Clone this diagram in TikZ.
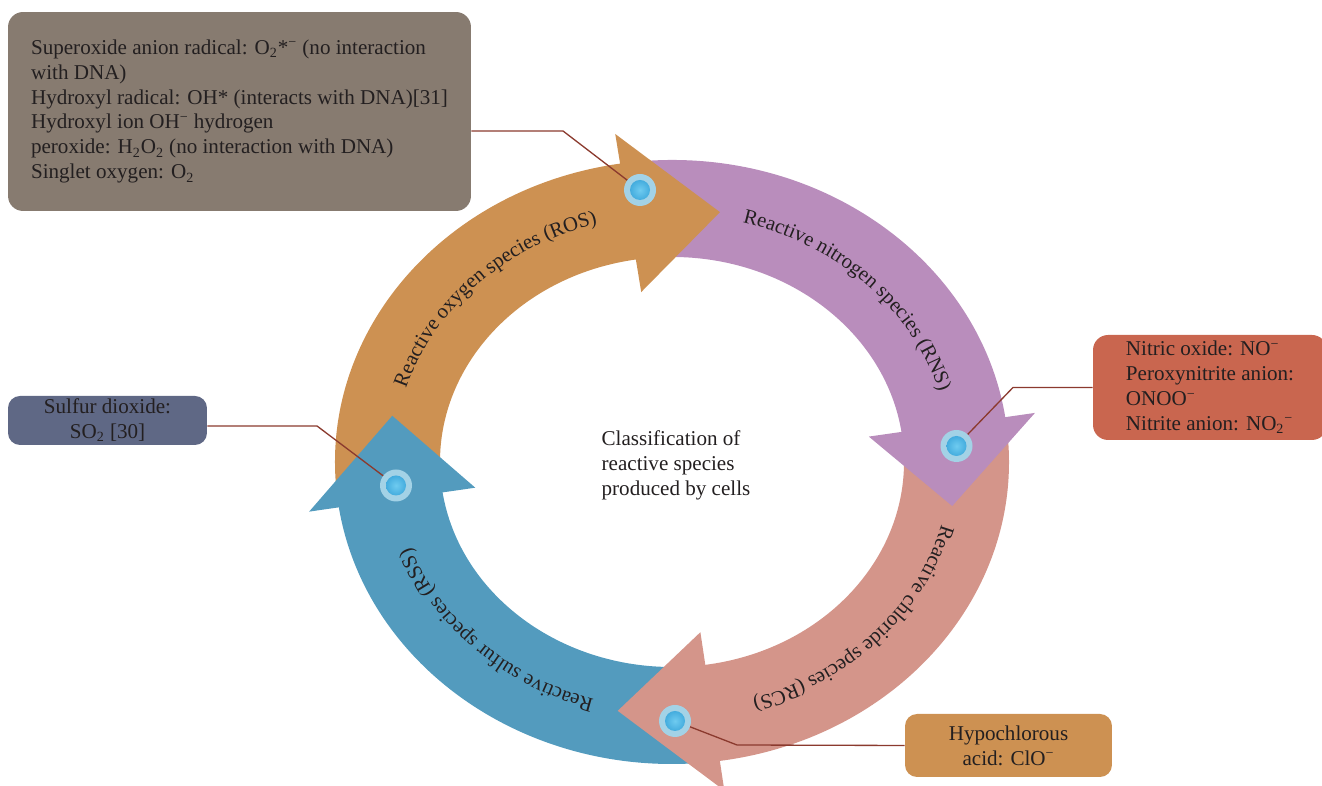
\documentclass[tikz,border=0pt]{standalone}
\usepackage{fontspec}
\setmainfont{Liberation Serif}
\usetikzlibrary{decorations.text}

\definecolor{rosorange}{HTML}{CD9152}
\definecolor{rnspurple}{HTML}{B98DBC}
\definecolor{rcspink}{HTML}{D4958A}
\definecolor{rssblue}{HTML}{539BBE}
\definecolor{boxgray}{HTML}{877B70}
\definecolor{boxred}{HTML}{C9664F}
\definecolor{boxslate}{HTML}{5F6885}
\definecolor{linkred}{HTML}{8B3A2E}
\definecolor{inktext}{HTML}{231F20}
\definecolor{ringblue}{HTML}{A3D2E6}
\definecolor{dotlight}{HTML}{6FCBF0}
\definecolor{dotdark}{HTML}{2A9AD3}

\newcommand{\ringfont}{\fontsize{11.8}{14.2}\selectfont}
\newcommand{\boxfont}{\fontsize{12}{14.2}\selectfont}

\begin{document}
\begin{tikzpicture}[x=0.02cm,y=0.02cm,
    infobox/.style={rounded corners=0.3cm, text=inktext, font=\boxfont, inner sep=0pt},
    dot/.style={circle, minimum size=0.64cm, inner sep=0pt, fill=ringblue,
      path picture={\shade[inner color=dotlight, outer color=dotdark] (path picture bounding box.center) circle (0.2cm);}},
    link/.style={linkred, line width=0.75pt}]
    \useasboundingbox (0,0) rectangle (1322,786);
    \clip (0,0) rectangle (1322,786);

    \begin{scope}[shift={(672,324)}]
      % bands
      \fill[rosorange] (185:337 and 302) arc[start angle=185, end angle=98.4, x radius=337, y radius=302]
        -- (98.4:232 and 205) arc[start angle=98.4, end angle=185, x radius=232, y radius=205] -- cycle;
      \fill[rnspurple] (95:337 and 302) arc[start angle=95, end angle=8, x radius=337, y radius=302]
        -- (8:232 and 205) arc[start angle=8, end angle=95, x radius=232, y radius=205] -- cycle;
      \fill[rcspink] (4.5:337 and 302) arc[start angle=4.5, end angle=-82.3, x radius=337, y radius=302]
        -- (-82.3:232 and 205) arc[start angle=-82.3, end angle=4.5, x radius=232, y radius=205] -- cycle;
      \fill[rssblue] (274:337 and 302) arc[start angle=274, end angle=188.1, x radius=337, y radius=302]
        -- (188.1:232 and 205) arc[start angle=188.1, end angle=274, x radius=232, y radius=205] -- cycle;
      % heads
      \fill[rosorange] (98.9:367 and 332) -- (80.3:284.5 and 253.5) -- (98.9:199 and 172) -- cycle;
      \fill[rnspurple] (8.5:367 and 332) -- (-10:284.5 and 253.5) -- (8.5:199 and 172) -- cycle;
      \fill[rcspink] (-81.8:367 and 332) -- (-101:284.5 and 253.5) -- (-81.8:199 and 172) -- cycle;
      \fill[rssblue] (188.6:367 and 332) -- (169.5:284.5 and 253.5) -- (188.6:199 and 172) -- cycle;
      % curved labels
      \path[decorate, decoration={text along path, text align=center, text color=inktext,
        text={|\ringfont|Reactive oxygen species (ROS)}}]
        (180:278.5 and 247.5) arc[start angle=180, end angle=90, x radius=278.5, y radius=247.5];
      \path[decorate, decoration={text along path, text align=center, text color=inktext,
        text={|\ringfont|Reactive nitrogen species (RNS)}}]
        (90:278.5 and 247.5) arc[start angle=90, end angle=0, x radius=278.5, y radius=247.5];
      \path[decorate, decoration={text along path, text align=center, text color=inktext,
        text={|\ringfont|Reactive chloride species (RCS)}}]
        (2:278.5 and 247.5) arc[start angle=2, end angle=-88, x radius=278.5, y radius=247.5];
      \path[decorate, decoration={text along path, text align=center, text color=inktext,
        text={|\ringfont|Reactive sulfur species (RSS)}}]
        (271:278.5 and 247.5) arc[start angle=271, end angle=181, x radius=278.5, y radius=247.5];
    \end{scope}

    \node[text=inktext, font=\boxfont, align=left] (title) at (676,321)
      {Classification of\\ reactive species\\ produced by cells};

    % boxes
    \node[infobox, fill=boxgray, minimum width=9.26cm, minimum height=3.98cm, align=left] (rosbox) at (239.5,674.5)
      {Superoxide anion radical: O\textsubscript{2}*\textsuperscript{−} (no interaction\\
       with DNA)\\
       Hydroxyl radical: OH* (interacts with DNA)[31]\\
       Hydroxyl ion OH\textsuperscript{−} hydrogen\\
       peroxide: H\textsubscript{2}O\textsubscript{2} (no interaction with DNA)\\
       Singlet oxygen: O\textsubscript{2}};
    \node[infobox, fill=boxred, minimum width=4.68cm, minimum height=2.1cm, align=left] (rnsbox) at (1210,398.5)
      {Nitric oxide: NO\textsuperscript{−}\\
       Peroxynitrite anion:\\
       ONOO\textsuperscript{−}\\
       Nitrite anion: NO\textsubscript{2}\textsuperscript{−}};
    \node[infobox, rounded corners=0.24cm, fill=boxslate, minimum width=3.98cm, minimum height=0.98cm, align=center] (rssbox) at (107.5,365.5)
      {Sulfur dioxide:\\ SO\textsubscript{2} [30]};
    \node[infobox, rounded corners=0.24cm, fill=rosorange, minimum width=4.14cm, minimum height=1.26cm, align=center] (rcsbox) at (1008.5,40.5)
      {Hypochlorous\\ acid: ClO\textsuperscript{−}};

    % connectors
    \coordinate (rosbend) at (563,655);
    \coordinate (rnsbend) at (1013,398.5);
    \coordinate (rssbend) at (317,360);
    \coordinate (rcsbend) at (737,41);
    \draw[link] (rosbox.east |- rosbend) -- (rosbend) -- (640,596);
    \draw[link] (rnsbox.west) -- (rnsbend) -- (956.5,340);
    \draw[link] (rssbox.east |- rssbend) -- (rssbend) -- (396,300.5);
    \draw[link] (rcsbox.west) -- (rcsbend) -- (675,65);

    % dots
    \node[dot] (rosdot) at (640,596) {};
    \node[dot] (rnsdot) at (956.5,340) {};
    \node[dot] (rssdot) at (396,300.5) {};
    \node[dot] (rcsdot) at (675,65) {};
\end{tikzpicture}
\end{document}
